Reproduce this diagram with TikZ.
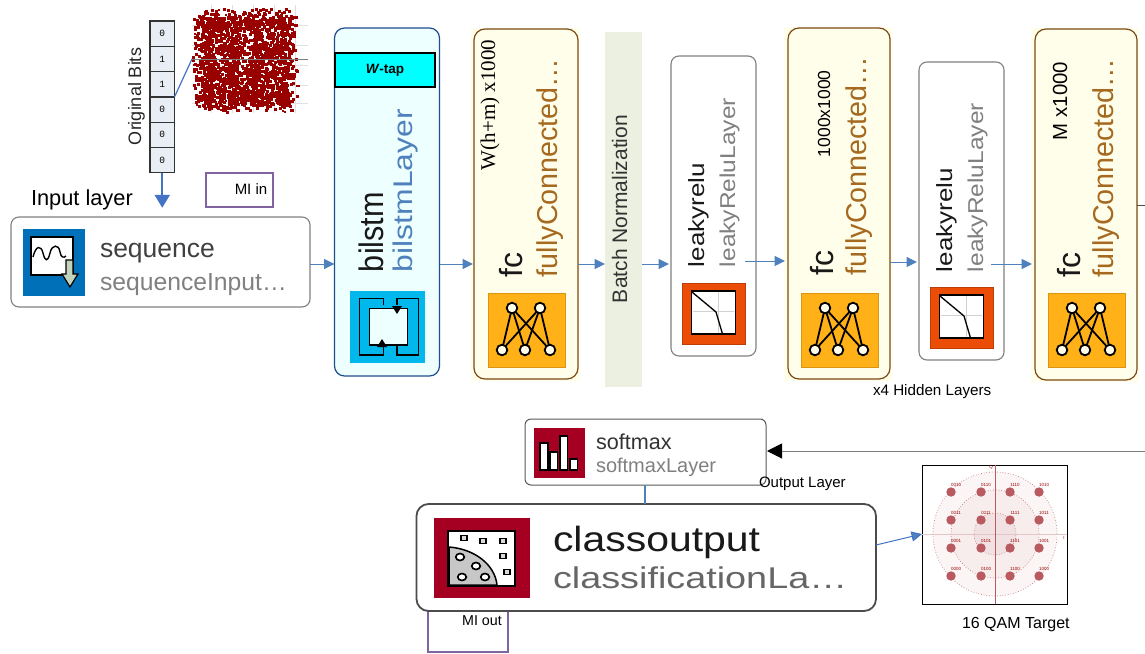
\documentclass[tikz,border=0pt]{standalone}
\usepackage{fontspec}
\setmainfont{Liberation Sans}
\newfontfamily\timesf{Liberation Serif}
\newfontfamily\monof{Liberation Mono}
\usetikzlibrary{arrows.meta}
\definecolor{flowblue}{HTML}{4F81BD}
\definecolor{thickblue}{HTML}{4472C4}
\definecolor{fcfill}{HTML}{FFFEEB}
\definecolor{fcedge}{HTML}{7B4A12}
\definecolor{fcorange}{HTML}{FFB117}
\definecolor{fctext}{HTML}{A5691F}
\definecolor{redorange}{HTML}{EB4C06}
\definecolor{crimson}{HTML}{A50021}
\definecolor{darkred}{HTML}{990000}
\definecolor{purp}{HTML}{8064A2}
\definecolor{qamred}{HTML}{B85A60}
\definecolor{seqblue}{HTML}{0070B8}
\definecolor{bilfill}{HTML}{EEFFFF}
\definecolor{biledge}{HTML}{1F4E8C}
\definecolor{bilicon}{HTML}{00B8EC}
\definecolor{tapcyan}{HTML}{00FFFF}
\definecolor{bitfill}{HTML}{E9EDF4}
\definecolor{bnfill}{HTML}{EBF0E1}
\definecolor{arrowgreen}{HTML}{C2D4BC}
\newcommand{\fsz}[1]{\fontsize{#1}{#1}\selectfont}
\newcommand{\pbox}[6]{%
  \pgfmathsetmacro\boxW{#4-#2}\pgfmathsetmacro\boxH{#5-#3}%
  \node[#6,minimum width=\boxW pt,minimum height=\boxH pt] (#1) at ({(#2+#4)/2},{(#3+#5)/2}) {};}
\newcommand{\fcicon}[3]{%
  \pbox{#1}{#2}{#3}{#2+77}{#3+74}{fill=fcorange,draw=fcorange!85!black,line width=.4pt}
  \begin{scope}[shift={(#2,#3)},line width=1.8pt]
    \foreach \t in {24,52}{\foreach \b in {14,37,62}{\draw (\t,15) -- (\b,57);}}
    \foreach \t in {24,52}{\draw[fill=fcfill] (\t,15) circle (5.3pt);}
    \foreach \b in {14,37,62}{\draw[fill=fcfill] (\b,57) circle (5.3pt);}
  \end{scope}}
\newcommand{\leakicon}[3]{%
  \pbox{#1}{#2}{#3}{#2+63.5}{#3+61}{fill=redorange,draw=redorange!80!black,line width=.4pt}
  \begin{scope}[shift={(#2,#3)}]
    \draw[line width=1.8pt,fill=white] (9.5,8) rectangle (53.5,51);
    \draw[black!18,line width=.8pt] (11,28) -- (52,28) (36,9) -- (36,50);
    \draw[line width=1.3pt] (10,9) -- (34,29) -- (40.5,51);
  \end{scope}}
\tikzset{
  x=1pt,y=-1pt,
  every node/.style={inner sep=0pt,outer sep=0pt},
  flow/.style={draw=flowblue,line width=1pt,-{Triangle[length=10.5pt,width=10pt,fill=flowblue]}},
  roundgray/.style={draw=black!50,fill=white,line width=1.1pt,rounded corners=8pt},
  fcbox/.style={draw=fcedge,fill=fcfill,line width=1.2pt,rounded corners=11pt},
  vtext/.style={rotate=90,anchor=base west},
  purbox/.style={draw=purp,fill=white,line width=1.1pt},
  bitcell/.style={draw=black!80,fill=bitfill,line width=1.3pt},
  main/.style={text=black!85},
  sub/.style={text=black!50},
  qamlab/.style={text=darkred,font=\fsz{4.5}},
}
\begin{document}
\begin{tikzpicture}
\useasboundingbox (0,0) rectangle (1145,653);
\fill[white] (0,0) rectangle (1145,653);

% scatter
\coordinate (scat) at (192,59);
\foreach \gx in {211,232,253,274,295}{\draw[black!12,line width=.5pt] (\gx,5) -- (\gx,113);}
\foreach \gy in {25,45,65,85,103}{\draw[black!12,line width=.5pt] (192,\gy) -- (308,\gy);}
\pgfmathsetseed{7}
\foreach \cx in {207,232,256,280}{
  \foreach \cy in {23,47,72,95}{
    \foreach \k in {1,...,125}{
      \pgfmathsetmacro\px{\cx+8.5*(rand+rand)}
      \pgfmathsetmacro\py{\cy+8.5*(rand+rand)}
      \fill[darkred] (\px,\py) rectangle +(3,3);
    }}}
\foreach \k in {1,...,70}{
  \pgfmathsetmacro\px{245+53*rand}
  \pgfmathsetmacro\py{59+52*rand}
  \fill[darkred] (\px,\py) rectangle +(2,2);
}
\draw[black!50,line width=.8pt] (scat) -- (308,59);

% bits
\foreach \i/\b in {1/0,2/1,3/1,4/0,5/0,6/0}{
  \pgfmathsetmacro\ty{21+(\i-1)*25.3}
  \pgfmathsetmacro\by{\ty+25.3}
  \pbox{bit\i}{150}{\ty}{174.5}{\by}{bitcell}
  \node[font=\monof\fsz{9.5}] (bt\i) at (bit\i.center) {\b};
}
\draw[thickblue,line width=1.2pt] (bit4.north east) -- (scat);
\node[vtext,font=\fsz{18},main] (origbits) at (141,145) {Original Bits};
\draw[thickblue,line width=2.2pt,-{Triangle[length=13pt,width=15pt,fill=thickblue]}] (bit6.south) -- ++(0,35);

\node[anchor=base west,font=\fsz{21.8},text=black] (inlab) at (31,205) {Input layer};
\pbox{miin}{206}{173}{273}{207}{purbox}
\node[font=\fsz{15},text=black] (miintxt) at (251,189.5) {MI in};

% sequence
\pbox{seq}{11}{217}{310}{307}{roundgray}
\pbox{seqi}{23}{229}{85}{296}{fill=seqblue}
\draw[line width=1.4pt,fill=white] (31,237) rectangle (73,275);
\draw[line width=1.4pt] (33,257) .. controls (36,245) and (41,245) .. (43,253) .. controls (45,262) and (48,262) .. (50,253) .. controls (52,244) and (59,244) .. (60,252) .. controls (61,258) and (64,258) .. (66,256);
\draw[line width=1.2pt,fill=arrowgreen] (66,260) -- (73,260) -- (73,274) -- (78,274) -- (70,287) -- (62,274) -- (66,274) -- cycle;
\node[anchor=base west,font=\fsz{26.5},text=black!75] (seqa) at (100,257) {sequence};
\node[anchor=base west,font=\fsz{24.7},sub] (seqb) at (100,290) {sequenceInput…};

% bilstm
\pbox{bil}{334.5}{28}{439.5}{376}{draw=biledge,fill=bilfill,line width=1.2pt,rounded corners=10pt}
\pbox{wtap}{335}{53}{435}{87}{draw=black,fill=tapcyan,line width=1.2pt}
\node[font=\bfseries\fsz{13.5}] (wtapt) at (wtap.center) {\textit{W}-tap};
\node[vtext,font=\fsz{34},xscale=.9,text=black!90] (bila) at (383,272) {bilstm};
\node[vtext,font=\fsz{27},xscale=1.18,text=flowblue] (bilb) at (412,272) {bilstmLayer};
\pbox{bili}{350}{291}{425}{363}{fill=bilicon}
\draw[line width=1.6pt] (383.3,305) -- (383.3,298.3) -- (359.3,298.3) -- (359.3,355) -- (383.3,355) -- (383.3,345);
\draw[line width=1.6pt] (396.7,305) -- (396.7,298.3) -- (418.3,298.3) -- (418.3,355) -- (396.7,355) -- (396.7,345);
\draw[line width=1.6pt,fill=bilfill] (369.3,308.3) rectangle (407.3,345);
\fill (392,306) -- (402,306) -- (397,314) -- cycle;
\fill (377,347) -- (387,347) -- (382,339) -- cycle;

% fc1
\fill[fcfill] (471,28) rectangle (580,381);
\pbox{fca}{474}{29}{578}{379}{fcbox}
\node[vtext,font=\timesf\fsz{21}] (dima) at (495,170) {W(h+m) x1000};
\node[vtext,font=\fsz{32},text=black!90] (fcat) at (522,277) {fc};
\node[vtext,font=\fsz{28.7},text=fctext] (fcas) at (557,277) {fullyConnected…};
\fcicon{fcai}{488}{293}

% batch
\pbox{bn}{605}{32}{642}{387}{fill=bnfill}
\node[vtext,font=\fsz{21},text=black!80] (bnt) at (627,303) {Batch Normalization};

% leaky1
\pbox{lka}{671}{56}{756}{356}{roundgray}
\node[vtext,font=\fsz{22},xscale=1.18,text=black!90] (lkat) at (704,267) {leakyrelu};
\node[vtext,font=\fsz{21.5},xscale=1.14,sub] (lkas) at (735,267) {leakyReluLayer};
\leakicon{lkai}{682}{283}

% fc2
\fill[fcfill] (784,27) rectangle (892,381);
\pbox{fcb}{788}{28}{890}{379}{fcbox}
\node[vtext,font=\fsz{17.5}] (dimb) at (830,157) {1000x1000};
\node[vtext,font=\fsz{32},text=black!90] (fcbt) at (833,275) {fc};
\node[vtext,font=\fsz{28.7},text=fctext] (fcbs) at (866,275) {fullyConnected…};
\fcicon{fcbi}{801}{293}

% leaky2
\pbox{lkb}{919}{62}{1004}{360}{roundgray}
\node[vtext,font=\fsz{22},xscale=1.18,text=black!90] (lkbt) at (952,272) {leakyrelu};
\node[vtext,font=\fsz{21.5},xscale=1.14,sub] (lkbs) at (983,272) {leakyReluLayer};
\leakicon{lkbi}{930}{287}

% fc3
\fill[fcfill] (1031,28) rectangle (1139,382);
\pbox{fcc}{1035}{29}{1137}{380}{fcbox}
\node[vtext,font=\fsz{20.4}] (dimc) at (1067,140) {M x1000};
\node[vtext,font=\fsz{32},text=black!90] (fcct) at (1080,277) {fc};
\node[vtext,font=\fsz{28.7},text=fctext] (fccs) at (1113,277) {fullyConnected…};
\fcicon{fcci}{1048}{293}

\node[anchor=base west,font=\fsz{15.2},text=black] (hid) at (873,395) {x4 Hidden Layers};

% row connectors
\coordinate (edgeR) at (1145,205);
\coordinate (edgeS) at (1145,451);
\draw[flow] (seq.east |- 0,264) -- (bil.west |- 0,264);
\draw[flow] (bil.east |- 0,264) -- ([xshift=-1pt]fca.west |- 0,264);
\draw[flow] (fca.east |- 0,264) -- (bn.west |- 0,264);
\draw[flow] (bn.east |- 0,264) -- ([xshift=-2pt]lka.west |- 0,264);
\draw[flow] ([xshift=-11pt]lka.east |- 0,261) -- ([xshift=-3pt]fcb.west |- 0,261);
\draw[flow] (fcb.east |- 0,262) -- ([xshift=-2pt]lkb.west |- 0,262);
\draw[flow] ([xshift=-13pt]lkb.east |- 0,264) -- ([xshift=-3pt]fcc.west |- 0,264);
\draw[black!70,line width=.6pt] (fcc.east |- edgeR) -- (edgeR);

% softmax
\pbox{soft}{525}{419}{766}{485}{draw=black!65,fill=white,line width=1pt,rounded corners=6pt}
\pbox{softi}{533.5}{428}{585}{478}{fill=crimson}
\foreach \a/\c/\t in {540/547.7/443,550/557.3/452,560/567.3/436,570/577.3/459}{\draw[line width=1.6pt,fill=white] (\a,\t) rectangle (\c,470);}
\node[anchor=base west,font=\fsz{21.6},text=black!80] (softa) at (596,449) {softmax};
\node[anchor=base west,font=\fsz{20},sub] (softb) at (596,472) {softmaxLayer};
\draw[black!50,line width=1pt,-{Triangle[length=15pt,width=15pt,fill=black,color=black]}] (edgeS) -- ([xshift=1pt]soft.east |- edgeS);
\node[anchor=base west,font=\fsz{15},text=black] (outlab) at (759,487) {Output Layer};

% MI out (behind classoutput)
\pbox{miout}{428}{600}{508}{652}{purbox}
\node[font=\fsz{14.3},text=black] (miouttxt) at (482,621) {MI out};

% classoutput
\pbox{cls}{416.5}{504}{876}{611}{draw=black!70,fill=white,line width=1.8pt,rounded corners=12pt}
\draw[flowblue,line width=1.1pt] (soft.south -| 645,0) -- (cls.north -| 645,0);
\pbox{clsi}{434}{518}{530}{598}{fill=crimson}
\draw[line width=2.2pt,fill=white] (448,531) rectangle (515,586);
\draw[line width=1.5pt,fill=black!22] (449,547) .. controls (475,549) and (495,565) .. (497,585) -- (449,585) -- cycle;
\foreach \x/\y in {460/557,476/566,462/577,485/577}{\draw[line width=1.7pt,fill=white] (\x,\y) ellipse (4.3pt and 3.5pt);}
\foreach \x/\y in {464/538,483/541,503/541,503/556,507/572}{\draw[line width=1.7pt,fill=black!15] (\x-3,\y-2.5) rectangle (\x+3,\y+2.5);}
\node[anchor=base west,font=\fsz{35},xscale=1.17,text=black!90] (clsa) at (553,551) {classoutput};
\node[anchor=base west,font=\fsz{30},xscale=1.26,text=black!60] (clsb) at (553,588) {classificationLa…};

% QAM
\pbox{qam}{922}{465}{1067}{604}{draw=black,fill=white,line width=.9pt}
\fill[qamred!6] (995,534) circle (62pt);
\draw[qamred!80,dotted,line width=.7pt] (995,534) circle (62pt);
\fill[qamred!11] (995,534) circle (44pt);
\draw[qamred!80,dotted,line width=.7pt] (995,534) circle (44pt);
\fill[qamred!18] (995,534) circle (21pt);
\draw[qamred!80,dotted,line width=.7pt] (995,534) circle (21pt);
\draw[qamred!35,line width=.6pt] (qam.west |- 0,534) -- (qam.east |- 0,534);
\draw[qamred,line width=.7pt] (qam.north -| 995,0) -- (qam.south -| 995,0);
\foreach \x/\y/\s/\n in {951/492/0010/a,981/492/0110/b,1010/492/1110/c,1039/492/1010/d,
  951/520/0011/e,981/520/0111/f,1010/520/1111/g,1039/520/1011/h,
  951/548/0001/i,981/548/0101/j,1010/548/1101/k,1039/548/1001/l,
  951/576/0000/m,981/576/0100/n,1010/576/1100/o,1039/576/1000/p}{
  \fill[qamred] (\x,\y) circle (4.7pt);
  \node[qamlab] (ql\n) at (\x+5,\y-7) {\s};
}
\node[qamlab] (qq) at (991,467.5) {Q};
\node[qamlab] (qi) at (1064,538) {I};
\draw[flow,draw=thickblue] (cls.east |- 0,545) -- (qam.west |- 0,534);
\node[anchor=base west,font=\fsz{16},text=black] (qamlabel) at (962,628) {16 QAM Target};
\end{tikzpicture}
\end{document}
